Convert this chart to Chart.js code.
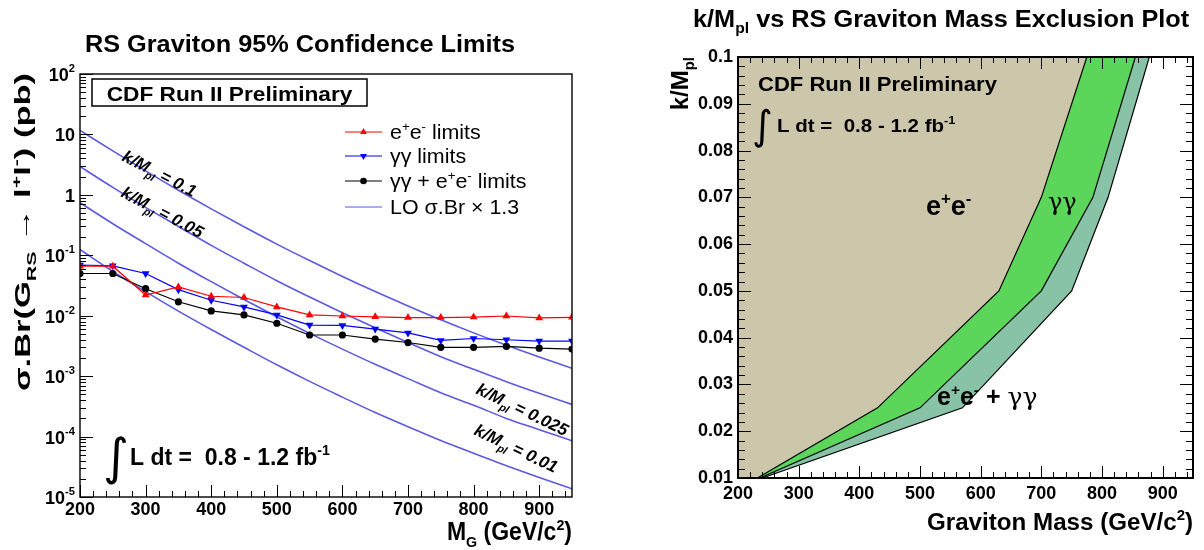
<!DOCTYPE html>
<html><head><meta charset="utf-8">
<script src="https://cdn.jsdelivr.net/npm/chart.js@4.4.0/dist/chart.umd.min.js"></script>
<style>
html,body{margin:0;padding:0;background:#fff;}
#wrap{position:relative;width:1204px;height:550px;overflow:hidden;background:#fff;}
canvas{position:absolute;top:0;}
#c1{left:0;} #c2{left:600px;}
</style></head><body>
<div id="wrap"><canvas id="c1" width="600" height="550"></canvas><canvas id="c2" width="604" height="550"></canvas></div>
<script>
// ---------------- data: left panel ----------------
const masses = [200,250,300,350,400,450,500,550,600,650,700,750,800,850,900,950];
const eeLimits   = [0.066,0.066,0.022,0.030,0.021,0.020,0.014,0.0103,0.0099,0.0096,0.0093,0.0093,0.0095,0.0099,0.0092,0.0094];
const ggLimits   = [0.069,0.067,0.050,0.027,0.018,0.014,0.0103,0.0070,0.0069,0.0060,0.0052,0.0039,0.0042,0.0040,0.0038,0.0038];
const combLimits = [0.050,0.050,0.028,0.017,0.012,0.0103,0.0075,0.0048,0.0048,0.0041,0.0036,0.0030,0.0030,0.0031,0.0029,0.0028];
const lo_k0100 = [11.7,5.33,2.49,1.19,0.586,0.296,0.153,0.0817,0.0447,0.0251,0.0145,0.00855,0.0052,0.00325,0.00208,0.00135];
const lo_k0050 = [2.95,1.33,0.62,0.30,0.146,0.074,0.038,0.0204,0.0112,0.0063,0.0036,0.0021,0.0013,0.00081,0.00052,0.00034];
const lo_k0025 = [0.74,0.333,0.156,0.074,0.0366,0.0185,0.0096,0.0051,0.0028,0.00157,0.00091,0.00053,0.00033,0.00020,0.00013,0.000085];
const lo_k0010 = [0.125,0.054,0.025,0.0119,0.0059,0.0030,0.00154,0.00082,0.00045,0.00025,0.000146,0.000086,0.000053,0.000033,0.000021,0.0000137];
const massTickValues = [200,300,400,500,600,700,800,900];
const decadeExponents = [-5,-4,-3,-2,-1,0,1,2];

// ---------------- data: right panel ----------------
const eeBoundaryMass   = [200,232,430,630,700,775];
const eeBoundaryK      = [0.01,0.01,0.025,0.05,0.07,0.1];
const ggBoundaryMass   = [200,236,500,700,785,855];
const ggBoundaryK      = [0.01,0.01,0.025,0.05,0.07,0.1];
const combBoundaryMass = [200,240,570,750,810,878];
const combBoundaryK    = [0.01,0.01,0.025,0.05,0.07,0.1];
const kTickValues = [0.01,0.02,0.03,0.04,0.05,0.06,0.07,0.08,0.09,0.1];
const kTickLabels = ['0.01','0.02','0.03','0.04','0.05','0.06','0.07','0.08','0.09','0.1'];

// ---------------- helpers ----------------
const F = '"Liberation Sans", Arial, Helvetica, sans-serif';
const LOBLUE = '#5a5ae4';
function pts(xs, ys){ return xs.map((x,i)=>({x:x, y:ys[i]})); }

function rich(ctx, x, y, parts, o){
  const base=o.size, w=o.weight||'bold', st=o.style||'normal';
  const items = parts.map(p=>{
    const m=p.m||'n';
    const sz = p.s || (m==='n'?base:base*0.62);
    const f = (p.st||st)+' '+(p.w||w)+' '+sz+'px '+(p.f||F);
    ctx.font=f;
    const dy = (m==='sup'? -base*0.42 : m==='sub'? base*0.27 : 0) + (p.dy||0);
    return {t:p.t, f:f, dy:dy, wd: ctx.measureText(p.t).width + (p.gap||0)};
  });
  const total = items.reduce((a,b)=>a+b.wd,0);
  const sx = o.fitWidth ? o.fitWidth/total : (o.sx||1);
  ctx.save(); ctx.translate(x,y); if(o.rot) ctx.rotate(o.rot); ctx.scale(sx,1);
  let cx = o.align==='right'? -total : o.align==='center'? -total/2 : 0;
  ctx.fillStyle=o.color||'#000'; ctx.textBaseline='alphabetic'; ctx.textAlign='left';
  for(const it of items){ ctx.font=it.f; ctx.fillText(it.t,cx,it.dy); cx+=it.wd; }
  ctx.restore();
  return total*sx;
}
function seg(ctx,x1,y1,x2,y2){ ctx.beginPath(); ctx.moveTo(x1,y1); ctx.lineTo(x2,y2); ctx.stroke(); }
function tri(ctx,x,y,r,down){
  const s = down? -1 : 1;
  ctx.beginPath();
  ctx.moveTo(x, y - s*r);
  ctx.lineTo(x + r*0.866, y + s*r*0.5);
  ctx.lineTo(x - r*0.866, y + s*r*0.5);
  ctx.closePath(); ctx.fill();
}

// ---------------- left chart ----------------
const leftDeco = {
  id:'leftDeco',
  afterDraw(chart){
    const ctx=chart.ctx, a=chart.chartArea, xs=chart.scales.x, ys=chart.scales.y;
    ctx.save();
    ctx.strokeStyle='#000'; ctx.lineWidth=1.4;
    ctx.strokeRect(a.left, a.top, a.right-a.left, a.bottom-a.top);
    ctx.lineWidth=1;
    for(let m=200;m<950;m+=20){
      const px=Math.round(xs.getPixelForValue(m))+0.5;
      seg(ctx,px,a.bottom,px,a.bottom-(m%100===0?12:6));
    }
    decadeExponents.forEach(e=>{
      const py=Math.round(ys.getPixelForValue(Math.pow(10,e)))+0.5;
      seg(ctx,a.left,py,a.left+13,py);
      if(e<2){ for(let k=2;k<=9;k++){ const q=Math.round(ys.getPixelForValue(k*Math.pow(10,e)))+0.5; seg(ctx,a.left,q,a.left+6,q);} }
      const lab = e===0? [{t:'1'}] : e===1? [{t:'10'}] : [{t:'10'},{t:String(e),m:'sup',dy:-1}];
      rich(ctx, 75, py+6.5, lab, {size:18, align:'right'});
    });
    rich(ctx, 300, 52, [{t:'RS Graviton 95% Confidence Limits'}], {size:23, sx:1.1, align:'center'});
    rich(ctx, 30, 73, [{t:'σ.Br(G'},{t:'RS',m:'sub'},{t:' → l'},{t:'+',m:'sup'},{t:'l'},{t:'-',m:'sup'},{t:') (pb)'}], {size:22, rot:-Math.PI/2, align:'right', fitWidth:318});
    rich(ctx, 572, 540, [{t:'M'},{t:'G',m:'sub'},{t:' (GeV/c'},{t:'2',m:'sup'},{t:')'}], {size:25, sx:0.92, align:'right'});
    ctx.fillStyle='#fff'; ctx.fillRect(92,79,275,27);
    ctx.strokeStyle='#000'; ctx.lineWidth=1.5; ctx.strokeRect(92,79,275,27);
    rich(ctx, 229.5, 101, [{t:'CDF Run II Preliminary'}], {size:21, sx:1.08, align:'center'});
    const ly=[132,156,181,207];
    const lc=['#ff0000','#0000ff','#000000',LOBLUE];
    ctx.lineWidth=1.2;
    ly.forEach((yy,i)=>{ ctx.strokeStyle=lc[i]; seg(ctx,345,yy,382,yy); });
    ctx.fillStyle='#ff0000'; tri(ctx,363.5,ly[0],4,false);
    ctx.fillStyle='#0000ff'; tri(ctx,363.5,ly[1],4,true);
    ctx.fillStyle='#000'; ctx.beginPath(); ctx.arc(363.5,ly[2],3.3,0,Math.PI*2); ctx.fill();
    const lo={size:20, weight:'normal', sx:1.07};
    rich(ctx,390,ly[0]+7,[{t:'e'},{t:'+',m:'sup'},{t:'e'},{t:'-',m:'sup'},{t:' limits'}],lo);
    rich(ctx,390,ly[1]+7,[{t:'γγ limits'}],lo);
    rich(ctx,390,ly[2]+7,[{t:'γγ + e'},{t:'+',m:'sup'},{t:'e'},{t:'-',m:'sup'},{t:' limits'}],lo);
    rich(ctx,390,ly[3]+7,[{t:'LO σ.Br × 1.3'}],lo);
    const cl={size:17, style:'italic'};
    rich(ctx,121,160,[{t:'k/M'},{t:'pl',m:'sub'},{t:' = 0.1'}],Object.assign({rot:0.48},cl));
    rich(ctx,120,196,[{t:'k/M'},{t:'pl',m:'sub'},{t:' = 0.05'}],Object.assign({rot:0.49},cl));
    rich(ctx,475,393,[{t:'k/M'},{t:'pl',m:'sub'},{t:' = 0.025'}],Object.assign({rot:0.45},cl));
    rich(ctx,473,434,[{t:'k/M'},{t:'pl',m:'sub'},{t:' = 0.01'}],Object.assign({rot:0.45},cl));
    ctx.fillStyle='#000'; ctx.font='normal 50px "DejaVu Sans"'; ctx.textBaseline='alphabetic'; ctx.fillText('∫',103,474);
    rich(ctx,130,465,[{t:'L dt =  0.8 - 1.2 fb'},{t:'-1',m:'sup'}],{size:23});
    ctx.restore();
  }
};

new Chart(document.getElementById('c1'),{
  type:'line',
  data:{datasets:[
    {label:'e+e- limits', data:pts(masses,eeLimits), borderColor:'#ff0000', backgroundColor:'#ff0000', borderWidth:1.2, pointStyle:'triangle', pointRadius:4.5, pointBorderWidth:0, tension:0},
    {label:'γγ limits', data:pts(masses,ggLimits), borderColor:'#0000ff', backgroundColor:'#0000ff', borderWidth:1.2, pointStyle:'triangle', pointRotation:180, pointRadius:4.5, pointBorderWidth:0, tension:0},
    {label:'γγ + e+e- limits', data:pts(masses,combLimits), borderColor:'#000', backgroundColor:'#000', borderWidth:1.2, pointStyle:'circle', pointRadius:3.6, pointBorderWidth:0, tension:0},
    {label:'k/Mpl = 0.1', data:pts(masses,lo_k0100), borderColor:LOBLUE, borderWidth:1.6, pointRadius:0, cubicInterpolationMode:'monotone'},
    {label:'k/Mpl = 0.05', data:pts(masses,lo_k0050), borderColor:LOBLUE, borderWidth:1.6, pointRadius:0, cubicInterpolationMode:'monotone'},
    {label:'k/Mpl = 0.025', data:pts(masses,lo_k0025), borderColor:LOBLUE, borderWidth:1.6, pointRadius:0, cubicInterpolationMode:'monotone'},
    {label:'k/Mpl = 0.01', data:pts(masses,lo_k0010), borderColor:LOBLUE, borderWidth:1.6, pointRadius:0, cubicInterpolationMode:'monotone'}
  ]},
  options:{
    responsive:false, animation:false, events:[],
    layout:{padding:{left:80,right:28,top:74,bottom:0}},
    plugins:{legend:{display:false}, tooltip:{enabled:false}, title:{display:false}},
    scales:{
      x:{type:'linear', min:200, max:950,
         afterBuildTicks:s=>{ s.ticks = massTickValues.map(v=>({value:v})); },
         ticks:{autoSkip:false, maxRotation:0, color:'#000', font:{family:F,size:18,weight:'bold'}, padding:2, callback:v=>String(v)},
         grid:{display:false, drawTicks:false}, border:{display:false},
         afterFit:s=>{ s.height=53; }},
      y:{type:'logarithmic', min:1e-5, max:100,
         ticks:{display:false}, grid:{display:false, drawTicks:false}, border:{display:false},
         afterFit:s=>{ s.width=0; }}
    }
  },
  plugins:[leftDeco]
});

// ---------------- right chart ----------------
const OX=600;
const rightDeco = {
  id:'rightDeco',
  afterDraw(chart){
    const ctx=chart.ctx, a=chart.chartArea, xs=chart.scales.x, ys=chart.scales.y;
    ctx.save();
    ctx.strokeStyle='#000'; ctx.lineWidth=1;
    for(let m=200;m<950;m+=20){
      const px=Math.round(xs.getPixelForValue(m))+0.5, L=(m%100===0?12:6);
      seg(ctx,px,a.bottom,px,a.bottom-L); seg(ctx,px,a.top,px,a.top+L);
    }
    for(let i=0;i<=45;i++){
      const k=0.01+i*0.002, py=Math.round(ys.getPixelForValue(k))+0.5, L=(i%5===0?13:7);
      seg(ctx,a.left,py,a.left+L,py); seg(ctx,a.right,py,a.right-L,py);
    }
    ctx.lineWidth=2;
    ctx.strokeRect(a.left, a.top, a.right-a.left, a.bottom-a.top);
    rich(ctx, 693-OX, 27, [{t:'k/M'},{t:'pl',m:'sub'},{t:' vs RS Graviton Mass Exclusion Plot'}], {size:23, sx:1.1});
    rich(ctx, 688-OX, 57, [{t:'k/M'},{t:'pl',m:'sub'}], {size:24, rot:-Math.PI/2, align:'right'});
    rich(ctx, 1193-OX, 530, [{t:'Graviton Mass (GeV/c'},{t:'2',m:'sup'},{t:')'}], {size:23, sx:1.05, align:'right'});
    rich(ctx, 758-OX, 91, [{t:'CDF Run II Preliminary'}], {size:21, sx:1.05});
    ctx.fillStyle='#000'; ctx.font='normal 40px "DejaVu Sans"'; ctx.fillText('∫',752-OX,139);
    rich(ctx, 777-OX, 132, [{t:'L dt =  0.8 - 1.2 fb'},{t:'-1',m:'sup'}], {size:19, sx:1.08});
    rich(ctx, 926-OX, 215, [{t:'e'},{t:'+',m:'sup'},{t:'e'},{t:'-',m:'sup'}], {size:27});
    rich(ctx, 1048-OX, 210, [{t:'γγ',f:'"DejaVu Serif"',w:'normal'}], {size:24});
    rich(ctx, 937-OX, 405, [{t:'e'},{t:'+',m:'sup'},{t:'e'},{t:'-',m:'sup'},{t:' + '},{t:'γγ',f:'"DejaVu Serif"',w:'normal'}], {size:25});
    ctx.restore();
  }
};

new Chart(document.getElementById('c2'),{
  type:'line',
  data:{datasets:[
    {label:'e+e- excluded', data:pts(eeBoundaryMass,eeBoundaryK), borderColor:'#000', borderWidth:1.2, backgroundColor:'#ccc6ab', fill:'end', pointRadius:0, tension:0},
    {label:'γγ excluded', data:pts(ggBoundaryMass,ggBoundaryK), borderColor:'#000', borderWidth:1.2, backgroundColor:'#5bd65b', fill:'end', pointRadius:0, tension:0},
    {label:'e+e- + γγ excluded', data:pts(combBoundaryMass,combBoundaryK), borderColor:'#000', borderWidth:1.2, backgroundColor:'#88c3a8', fill:'end', pointRadius:0, tension:0}
  ]},
  options:{
    responsive:false, animation:false, events:[],
    layout:{padding:{left:78,right:11,top:57,bottom:0}},
    plugins:{legend:{display:false}, tooltip:{enabled:false}, title:{display:false}, filler:{propagate:false}},
    scales:{
      x:{type:'linear', min:200, max:950,
         afterBuildTicks:s=>{ s.ticks = massTickValues.map(v=>({value:v})); },
         ticks:{autoSkip:false, maxRotation:0, color:'#000', font:{family:F,size:18,weight:'bold'}, padding:5, callback:v=>String(v)},
         grid:{display:false, drawTicks:false}, border:{display:false},
         afterFit:s=>{ s.height=72; }},
      y:{type:'linear', min:0.01, max:0.1,
         afterBuildTicks:s=>{ s.ticks = kTickValues.map(v=>({value:v})); },
         ticks:{autoSkip:false, color:'#000', font:{family:F,size:18,weight:'bold'}, padding:5, callback:(v,i)=>kTickLabels[i]},
         grid:{display:false, drawTicks:false}, border:{display:false},
         afterFit:s=>{ s.width=60; }}
    }
  },
  plugins:[rightDeco]
});
</script>
</body></html>
